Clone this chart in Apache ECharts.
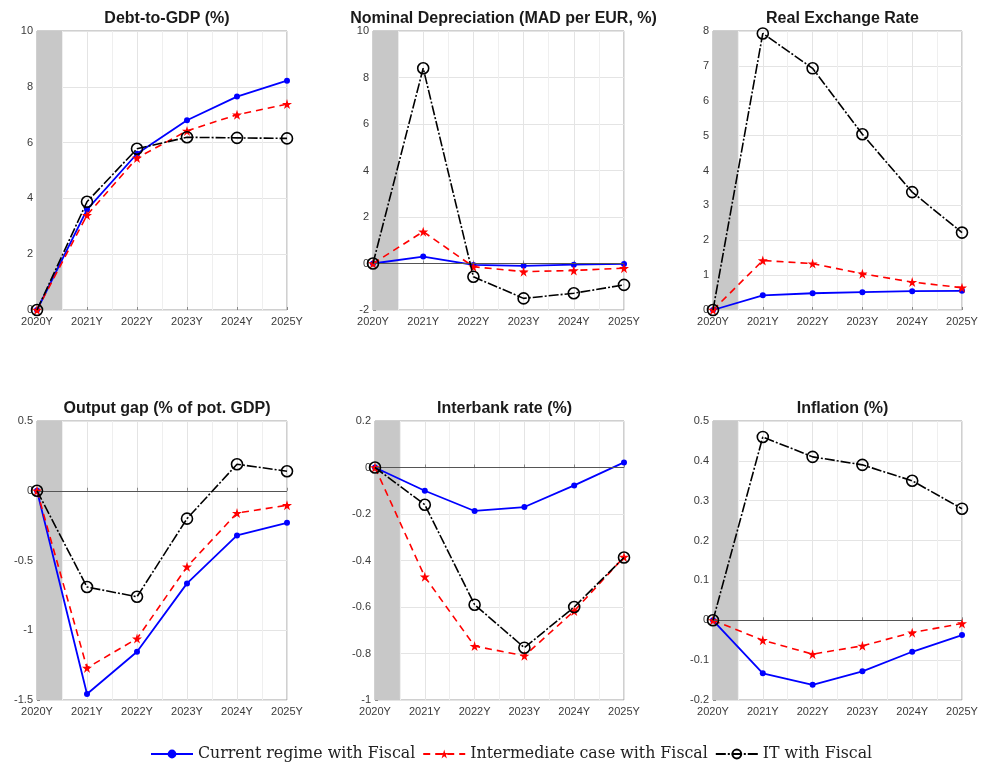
<!DOCTYPE html>
<html>
<head>
<meta charset="utf-8">
<script src="https://cdn.jsdelivr.net/npm/echarts@6/dist/echarts.min.js"></script>
<style>
  html, body { margin: 0; padding: 0; background: #fff; }
  #chart { width: 983px; height: 771px; }
</style>
</head>
<body>
<div id="chart"></div>
<script>
// Horizon labels shared by all panels
const years = ['2020Y', '2021Y', '2022Y', '2023Y', '2024Y', '2025Y'];

const seriesNames = ['Current regime with Fiscal', 'Intermediate case with Fiscal', 'IT with Fiscal'];

// Debt-to-GDP (%)
const debtCurrent      = [0, 3.6, 5.6, 6.8, 7.65, 8.22];
const debtIntermediate = [0, 3.4, 5.45, 6.42, 7.0, 7.38];
const debtIT           = [0, 3.88, 5.78, 6.19, 6.17, 6.15];

// Nominal depreciation (MAD per EUR, %)
const nomCurrent      = [0, 0.3, -0.06, -0.1, -0.05, -0.02];
const nomIntermediate = [0, 1.37, -0.14, -0.35, -0.3, -0.2];
const nomIT           = [0, 8.4, -0.57, -1.5, -1.28, -0.92];

// Real exchange rate
const rerCurrent      = [0, 0.42, 0.48, 0.51, 0.54, 0.55];
const rerIntermediate = [0, 1.42, 1.33, 1.04, 0.8, 0.64];
const rerIT           = [0, 7.93, 6.93, 5.04, 3.38, 2.22];

// Output gap (% of potential GDP)
const gapCurrent      = [0, -1.457, -1.154, -0.664, -0.32, -0.23];
const gapIntermediate = [0, -1.27, -1.06, -0.545, -0.16, -0.104];
const gapIT           = [0, -0.69, -0.76, -0.2, 0.19, 0.14];

// Interbank rate (%)
const ibCurrent      = [0, -0.1, -0.187, -0.17, -0.077, 0.022];
const ibIntermediate = [0, -0.47, -0.768, -0.81, -0.617, -0.385];
const ibIT           = [0, -0.16, -0.59, -0.775, -0.6, -0.387];

// Inflation (%)
const infCurrent      = [0, -0.133, -0.162, -0.128, -0.079, -0.037];
const infIntermediate = [0, -0.05, -0.085, -0.064, -0.031, -0.008];
const infIT           = [0, 0.46, 0.41, 0.39, 0.35, 0.28];

// y-axis ranges per panel
const yMins      = [0, -2, 0, -1.5, -1, -0.2];
const yMaxs      = [10, 10, 8, 0.5, 0.2, 0.5];
const yIntervals = [2, 2, 1, 0.5, 0.2, 0.1];

const titles = ['Debt-to-GDP (%)', 'Nominal Depreciation (MAD per EUR, %)', 'Real Exchange Rate',
                'Output gap (% of pot. GDP)', 'Interbank rate (%)', 'Inflation (%)'];

const panels = [
  [debtCurrent, debtIntermediate, debtIT],
  [nomCurrent, nomIntermediate, nomIT],
  [rerCurrent, rerIntermediate, rerIT],
  [gapCurrent, gapIntermediate, gapIT],
  [ibCurrent, ibIntermediate, ibIT],
  [infCurrent, infIntermediate, infIT]
];
const zeroLine = [false, true, false, true, true, true];

// plot-area boxes
const boxes = [
  { left: 37,  top: 31,  width: 250, height: 279 },
  { left: 373, top: 31,  width: 251, height: 279 },
  { left: 713, top: 31,  width: 249, height: 279 },
  { left: 37,  top: 421, width: 250, height: 279 },
  { left: 375, top: 421, width: 249, height: 279 },
  { left: 713, top: 421, width: 249, height: 279 }
];

const starPath = 'path://M50,0 L61,35 L98,35 L68,57 L79,91 L50,70 L21,91 L32,57 L2,35 L39,35 Z';

const styles = [
  { symbol: 'circle', symbolSize: 6,
    itemStyle: { color: '#0000ff' },
    lineStyle: { color: '#0000ff', width: 1.8, type: 'solid' } },
  { symbol: starPath, symbolSize: 10,
    itemStyle: { color: '#ff0000' },
    lineStyle: { color: '#ff0000', width: 1.6, type: [7, 5] } },
  { symbol: 'circle', symbolSize: 11,
    itemStyle: { color: 'rgba(255,255,255,0)', borderColor: '#000000', borderWidth: 1.6 },
    lineStyle: { color: '#000000', width: 1.6, type: [10, 2, 2, 2] } }
];

const fmt = v => String(Math.round(v * 1000) / 1000);

const grid = [], xAxis = [], yAxis = [], series = [], title = [];

boxes.forEach((b, i) => {
  grid.push(Object.assign({ show: true, borderColor: '#a0a0a0', borderWidth: 1,
                            backgroundColor: '#ffffff' }, b));
  title.push({
    text: titles[i],
    left: b.left + b.width / 2,
    top: b.top - 25,
    textAlign: 'center',
    textStyle: { fontFamily: 'Liberation Sans, Arial, sans-serif', fontSize: 16,
                 fontWeight: 'bold', color: '#1a1a1a' }
  });
  xAxis.push({
    type: 'value', gridIndex: i, min: 0, max: 5, interval: 1,
    axisLine: { show: false },
    axisTick: { show: true, inside: true, length: 3, lineStyle: { color: '#888' } },
    axisLabel: { formatter: v => years[v] || '', color: '#3a3a3a', fontSize: 11,
                 fontFamily: 'Liberation Sans, Arial, sans-serif', margin: 6 },
    splitLine: { show: true, lineStyle: { color: '#e4e4e4', width: 1 } },
    minorTick: { show: false, splitNumber: 2 },
    minorSplitLine: { show: true, lineStyle: { color: '#efefef', width: 1 } }
  });
  yAxis.push({
    type: 'value', gridIndex: i, min: yMins[i], max: yMaxs[i], interval: yIntervals[i],
    axisLine: { show: false },
    axisTick: { show: true, inside: true, length: 3, lineStyle: { color: '#888' } },
    axisLabel: { formatter: fmt, color: '#3a3a3a', fontSize: 11,
                 fontFamily: 'Liberation Sans, Arial, sans-serif', margin: 4 },
    splitLine: { show: true, lineStyle: { color: '#e4e4e4', width: 1 } }
  });

  // shaded initial period and zero reference line
  const helper = {
    type: 'line', xAxisIndex: i, yAxisIndex: i, data: [], silent: true, z: 1,
    markArea: {
      silent: true,
      itemStyle: { color: '#c8c8c8' },
      data: [[{ xAxis: 0 }, { xAxis: 0.5 }]]
    }
  };
  if (zeroLine[i]) {
    helper.markLine = {
      silent: true, symbol: 'none', label: { show: false },
      lineStyle: { color: '#555', width: 1, type: 'solid' },
      data: [{ yAxis: 0 }]
    };
  }
  series.push(helper);

  panels[i].forEach((vals, k) => {
    series.push(Object.assign({
      type: 'line', name: seriesNames[k], xAxisIndex: i, yAxisIndex: i, z: 3 + k,
      showAllSymbol: true,
      data: vals.map((v, j) => [j, v])
    }, JSON.parse(JSON.stringify(styles[k])), { symbol: styles[k].symbol }));
  });
});

const chart = echarts.init(document.getElementById('chart'), null, { renderer: 'canvas' });
chart.setOption({
  animation: false,
  backgroundColor: '#ffffff',
  title,
  grid, xAxis, yAxis, series,
  legend: {
    data: seriesNames,
    left: 145, top: 741,
    itemWidth: 42, itemHeight: 11, itemGap: 7,
    textStyle: { fontFamily: 'DejaVu Serif, serif', fontSize: 15.8, color: '#222' }
  }
});
</script>
</body>
</html>
